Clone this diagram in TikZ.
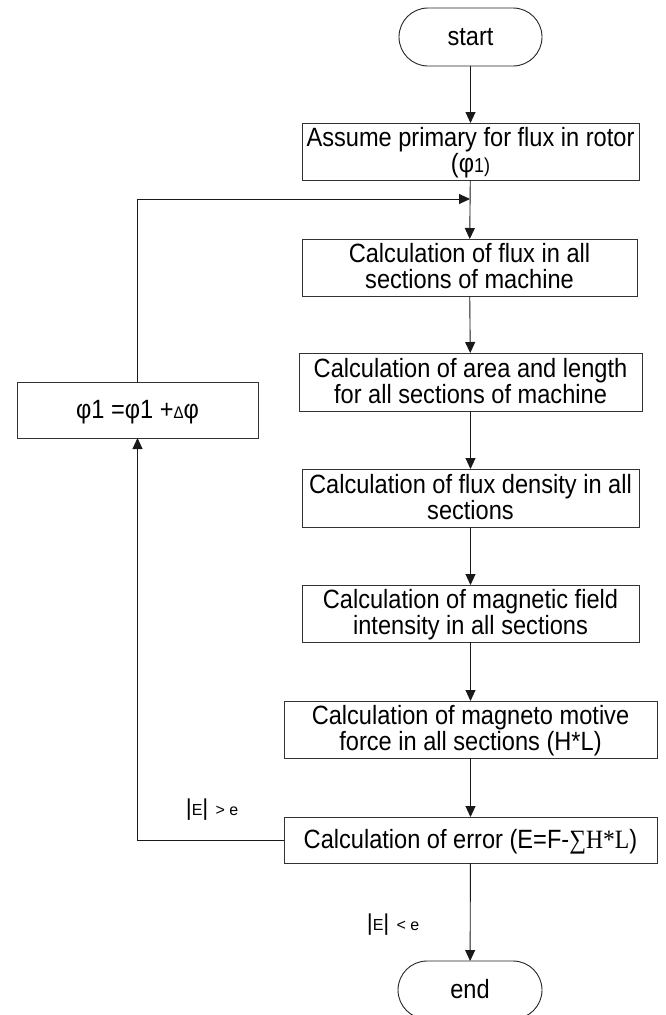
\documentclass[tikz,border=0pt]{standalone}
\usepackage{fontspec}
\setmainfont{Liberation Sans}
\newfontfamily\serifpart{Liberation Serif}
\usetikzlibrary{arrows.meta}
% box text: slightly tall lettering, lines set in a centred column,
% the first row given a taller strut so the lines sit on the box centre
\newcommand{\boxtext}[1]{\scalebox{1}[1.12]{\begin{tabular}{@{}c@{}}\rule{0pt}{21pt}#1\end{tabular}}}
\newcommand{\bigbar}{{\fontsize{23}{23}\selectfont |}}
\tikzset{
  x=1pt, y=-1pt,
  every node/.style={font=\fontsize{23.6}{20.8}\selectfont, inner sep=0pt, outer sep=0pt},
  procbox/.style={draw=black!80, line width=0.9pt, rectangle, align=center, fill=white},
  termbox/.style={draw=black!85, line width=0.9pt, rectangle, rounded corners=29pt,
                  minimum width=143pt, minimum height=58pt, align=center},
  flow/.style={draw=black!90, line width=0.9pt, -{Triangle[width=10pt,length=11pt]}},
  cond/.style={font=\fontsize{16}{16}\selectfont}
}
\begin{document}
\begin{tikzpicture}
\useasboundingbox (0,0) rectangle (666,1015);
\fill[white] (0,0) rectangle (666,1015);

% terminals
\node[termbox] (start) at (470.5,37) {\boxtext{start}};
\node[termbox, minimum width=144pt] (end) at (470,990) {\boxtext{end}};

% process steps
\node[procbox, minimum width=337pt, minimum height=57pt] (assume) at (470.5,151.5)
  {\boxtext{Assume primary for flux in rotor\\(φ{\fontsize{18}{18}\selectfont 1)}}};
\node[procbox, minimum width=335pt, minimum height=57pt] (flux) at (469.5,267.5)
  {\boxtext{Calculation of flux in all\\sections of machine}};
\node[procbox, minimum width=343pt, minimum height=58pt] (area) at (470.5,382)
  {\boxtext{Calculation of area and length\\for all sections of machine}};
\node[procbox, minimum width=337pt, minimum height=58pt] (density) at (470.5,498)
  {\boxtext{Calculation of flux density in all\\sections}};
\node[procbox, minimum width=337pt, minimum height=57pt] (field) at (470.5,613.5)
  {\boxtext{Calculation of magnetic field\\intensity in all sections}};
\node[procbox, minimum width=373pt, minimum height=57pt] (mmf) at (470.5,729.5)
  {\boxtext{Calculation of magneto motive\\force in all sections (H*L)}};
\node[procbox, minimum width=373pt, minimum height=46pt] (error) at (470.5,840)
  {\boxtext{Calculation of error (E=F-{\serifpart ∑H*L})}};

% flux update
\node[procbox, minimum width=241pt, minimum height=56pt] (update) at (137.5,410)
  {\boxtext{φ1 =φ1 +{\fontsize{15}{15}\selectfont Δ}φ}};

% main flow
\draw[flow] (start) -- (assume);
\draw[flow] (assume) -- (flux);
\draw[flow] (flux) -- (area);
\draw[flow] (area) -- (density);
\draw[flow] (density) -- (field);
\draw[flow] (field) -- (mmf);
\draw[flow] (mmf) -- (error);
\draw[flow] (error) -- (end);

% feedback loop
\coordinate (join) at (470,199);
\draw[flow] (error.west) -| (update.south);
\draw[flow] (update.north) |- (join);

% branch conditions
\node[cond] (gt) at (212,810) {\bigbar E\bigbar\ \,> e};
\node[cond] (lt) at (393,925) {\bigbar E\bigbar\ \,< e};
\end{tikzpicture}
\end{document}
